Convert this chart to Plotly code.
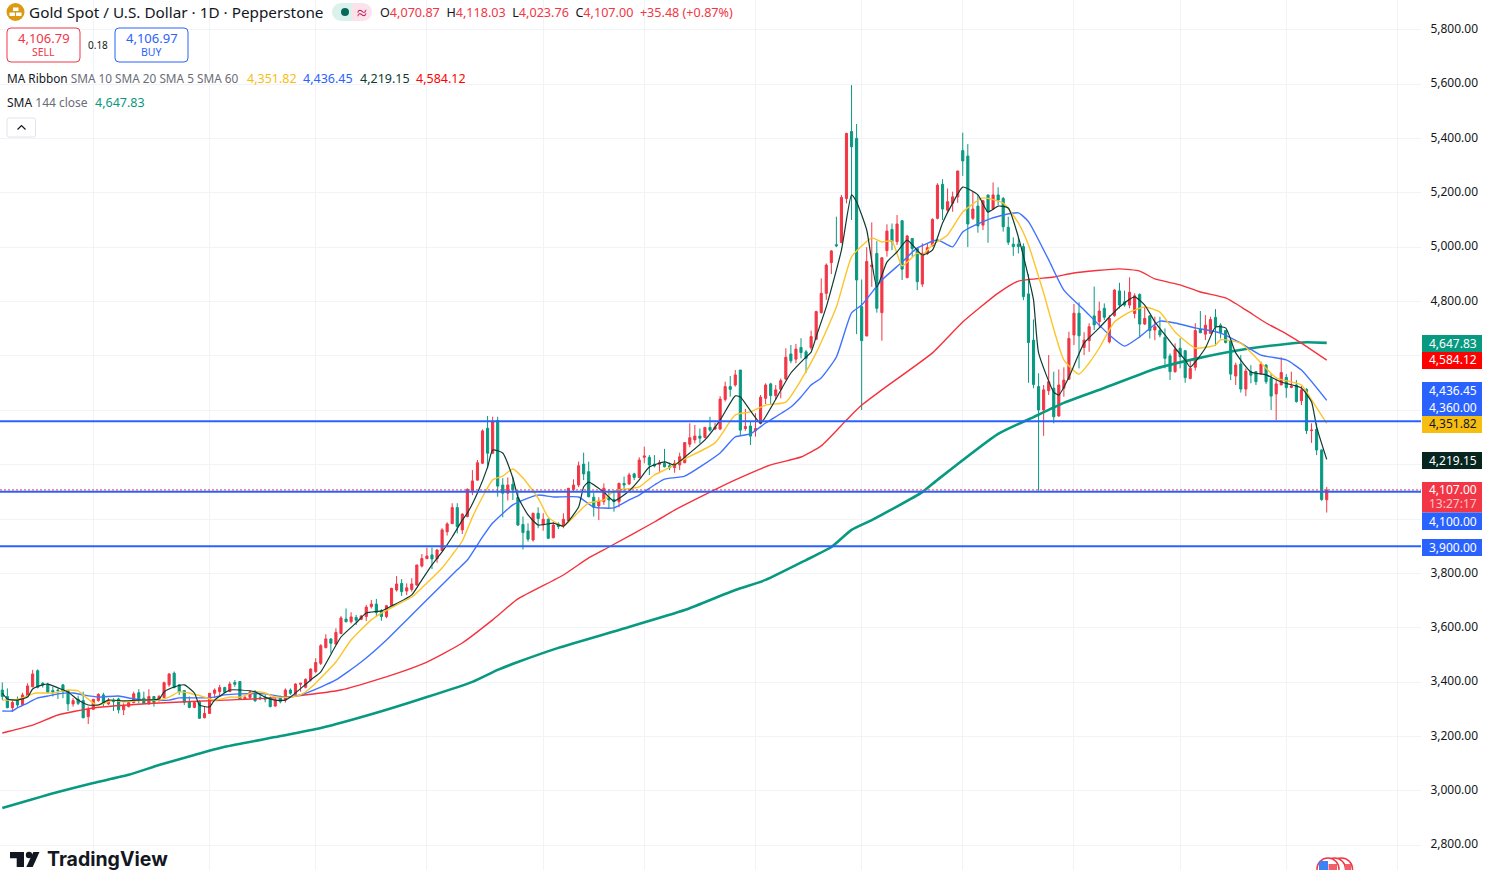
import plotly.graph_objects as go

# Daily gold candles, oldest first
OPEN = [
    3371,3347,3306,3332,3316,3349,3383,3442,3396,3392,
    3369,3371,3390,3369,3320,3337,3332,3273,3300,3332,
    3353,3320,3334,3338,3298,3310,3325,3361,3341,3322,
    3347,3332,3343,3390,3433,3390,3369,3328,3307,3328,
    3269,3285,3359,3365,3380,3365,3399,3402,3339,3344,
    3359,3343,3343,3343,3312,3347,3334,3371,3355,3392,
    3381,3408,3439,3469,3527,3559,3540,3579,3632,3622,
    3638,3631,3641,3678,3687,3663,3641,3682,3739,3763,
    3735,3741,3757,3827,3854,3868,3854,3884,3953,3983,
    4042,3960,4009,4104,4143,4205,4334,4242,4362,4125,
    4095,4128,4079,3980,3956,3923,4021,3978,3999,3931,
    3982,3974,3994,4109,4125,4202,4174,4080,4048,4064,
    4076,4072,4064,4131,4129,4166,4153,4227,4227,4202,
    4201,4205,4196,4189,4199,4207,4275,4291,4305,4300,
    4337,4331,4331,4440,4487,4493,4548,4333,4342,4324,
    4352,4444,4497,4454,4477,4515,4607,4588,4631,4615,
    4630,4661,4759,4830,4943,5009,5017,5179,5425,5400,
    4781,4673,4928,4977,4759,4987,5065,5020,5097,4888,
    5032,4995,4864,4977,5005,5106,5231,5136,5161,5185,
    5355,5335,5106,5151,5081,5192,5140,5192,5179,5073,
    5011,5011,5002,4828,4658,4487,4401,4472,4481,4379,
    4481,4514,4677,4757,4631,4656,4747,4726,4775,4652,
    4748,4839,4799,4787,4756,4826,4717,4747,4695,4693,
    4668,4600,4542,4628,4619,4517,4558,4699,4680,4683,
    4742,4713,4693,4658,4526,4570,4478,4542,4542,4536,
    4566,4517,4460,4493,4521,4484,4493,4435,4477,4325,
    4330,4254,4070.87,
]
HIGH = [
    3399,3377,3334,3347,3361,3396,3445,3447,3400,3398,
    3383,3375,3392,3371,3341,3350,3365,3310,3337,3359,
    3361,3341,3341,3343,3322,3328,3365,3374,3365,3374,
    3349,3353,3402,3433,3439,3392,3371,3347,3328,3334,
    3310,3359,3377,3390,3383,3402,3408,3404,3349,3371,
    3371,3359,3353,3347,3341,3350,3377,3377,3396,3396,
    3414,3451,3488,3540,3576,3561,3598,3643,3671,3657,
    3647,3647,3684,3702,3706,3668,3684,3747,3790,3779,
    3763,3782,3831,3871,3895,3895,3890,3966,3988,4058,
    4058,4021,4113,4180,4217,4330,4379,4376,4376,4150,
    4153,4156,4107,4009,3984,4023,4043,4021,4002,3990,
    3988,4021,4113,4146,4211,4244,4211,4097,4080,4131,
    4109,4104,4134,4156,4170,4170,4227,4266,4235,4235,
    4217,4258,4207,4217,4244,4281,4352,4346,4333,4337,
    4376,4354,4452,4505,4526,4548,4548,4405,4358,4389,
    4456,4499,4501,4493,4517,4628,4640,4644,4665,4622,
    4693,4766,4885,4940,4989,5112,5192,5421,5596,5453,
    4881,5000,5091,5022,4961,5084,5087,5118,5100,5045,
    5032,4995,5014,5014,5106,5235,5250,5216,5204,5281,
    5421,5379,5204,5192,5173,5192,5238,5220,5185,5112,
    5036,5038,5014,4900,4734,4536,4493,4603,4542,4550,
    4558,4689,4791,4797,4687,4720,4855,4799,4793,4750,
    4845,4869,4840,4889,4830,4830,4781,4750,4744,4744,
    4701,4609,4646,4665,4622,4585,4720,4765,4750,4744,
    4772,4720,4695,4658,4575,4603,4554,4566,4542,4579,
    4570,4536,4514,4595,4533,4542,4511,4489,4481,4352,
    4352,4256,4118.03,
]
LOW = [
    3334,3304,3291,3307,3312,3347,3381,3377,3380,3361,
    3347,3338,3341,3294,3310,3316,3267,3246,3298,3328,
    3310,3316,3294,3285,3279,3307,3322,3322,3320,3316,
    3310,3328,3341,3383,3377,3353,3316,3304,3304,3265,
    3267,3283,3341,3347,3359,3365,3383,3338,3334,3338,
    3328,3334,3326,3307,3310,3322,3325,3353,3353,3365,
    3377,3402,3433,3463,3524,3506,3537,3576,3620,3616,
    3610,3628,3625,3671,3643,3626,3635,3680,3733,3717,
    3720,3733,3755,3822,3853,3816,3839,3882,3939,3982,
    3947,3945,4006,4088,4143,4202,4186,4239,4082,4006,
    4068,4070,3974,3888,3917,3917,3966,3957,3926,3929,
    3963,3966,3990,4101,4117,4143,4080,4009,3996,4052,
    4039,4027,4043,4101,4125,4143,4150,4205,4162,4190,
    4174,4190,4180,4170,4180,4205,4264,4278,4278,4297,
    4321,4327,4327,4432,4450,4487,4309,4325,4272,4303,
    4348,4423,4419,4438,4444,4511,4573,4573,4591,4538,
    4622,4658,4756,4806,4901,5000,5014,5161,5100,4680,
    4401,4673,4854,4759,4656,4965,4989,5008,4879,4885,
    4965,4842,4854,4971,5002,5102,5100,5130,5130,5163,
    5262,5000,5100,5053,5063,5016,5136,5155,5057,5008,
    4968,4977,4805,4501,4481,4104,4306,4456,4352,4376,
    4450,4511,4640,4554,4603,4615,4695,4707,4732,4646,
    4744,4775,4781,4775,4738,4671,4714,4664,4658,4668,
    4554,4511,4538,4554,4501,4514,4546,4685,4658,4683,
    4636,4664,4646,4511,4493,4465,4452,4499,4493,4530,
    4497,4401,4364,4493,4446,4481,4428,4419,4313,4280,
    4235,4067,4023.76,
]
CLOSE = [
    3347,3306,3325,3316,3353,3386,3430,3381,3390,3363,
    3363,3369,3365,3320,3332,3322,3269,3300,3337,3355,
    3322,3334,3328,3298,3314,3325,3357,3334,3322,3347,
    3325,3347,3398,3430,3380,3365,3326,3307,3325,3267,
    3285,3359,3371,3380,3363,3393,3392,3338,3344,3363,
    3331,3339,3337,3310,3334,3328,3371,3359,3393,3396,
    3410,3448,3472,3534,3559,3543,3583,3636,3622,3640,
    3628,3643,3676,3687,3656,3641,3681,3745,3761,3733,
    3747,3761,3831,3855,3864,3853,3886,3960,3982,4042,
    3972,4018,4109,4140,4207,4324,4242,4358,4121,4095,
    4125,4107,3978,3950,3926,4021,4002,3999,3929,3978,
    3972,3999,4113,4125,4196,4166,4082,4043,4066,4113,
    4070,4064,4131,4125,4162,4153,4217,4232,4199,4195,
    4207,4192,4189,4205,4229,4281,4299,4305,4297,4337,
    4327,4338,4441,4487,4477,4530,4327,4340,4305,4333,
    4448,4493,4454,4475,4509,4595,4582,4625,4612,4591,
    4671,4763,4830,4934,4986,5005,5183,5418,5369,4879,
    4656,4947,4934,4775,4961,5059,5020,5085,4919,5041,
    4995,4873,4977,4998,5102,5228,5140,5167,5185,5280,
    5317,5085,5140,5078,5171,5130,5192,5173,5075,5018,
    5002,5002,4818,4649,4495,4401,4475,4505,4376,4493,
    4511,4664,4757,4674,4658,4707,4714,4765,4742,4738,
    4842,4787,4787,4834,4821,4717,4738,4693,4707,4677,
    4591,4542,4624,4597,4520,4554,4693,4685,4713,4734,
    4707,4685,4649,4533,4566,4478,4544,4529,4505,4570,
    4505,4452,4497,4539,4483,4489,4432,4475,4325,4327,
    4254,4071.52,4107.00,
]

# Moving averages, sampled by bar number
SMA5_BARS = [0,1,3,5,6,8,9,11,13,15,17,19,21,24,27,31,32,34,36,38,39,41,42,45,47,50,52,54,56,57,61,63,67,70,72,75,77,81,83,85,87,89,91,92,94,96,97,99,101,102,104,106,109,111,114,115,116,119,121,124,126,128,131,133,136,139,142,145,146,150,152,156,159,160,161,163,166,168,169,171,173,175,177,179,182,184,186,188,190,193,195,197,199,201,203,204,205,208,209,211,214,217,219,221,224,226,228,230,232,234,235,238,240,242,244,247,250,253,257,259,260,262]
SMA5_VALUES = [3360,3338,3334,3345,3375,3390,3393,3379,3364,3334,3316,3316,3334,3331,3334,3338,3364,3382,3390,3360,3316,3309,3334,3371,3371,3364,3345,3334,3334,3345,3408,3438,3566,3618,3654,3662,3680,3721,3776,3831,3879,3934,3996,4022,4096,4191,4254,4243,4151,4081,4015,3978,3985,3974,4044,4118,4136,4099,4066,4103,4144,4191,4210,4199,4243,4291,4364,4453,4449,4353,4408,4537,4596,4614,4670,4780,4989,5192,5166,5063,4853,4945,4982,5026,4971,4989,5089,5162,5221,5192,5129,5151,5144,5037,4890,4806,4611,4467,4456,4522,4647,4703,4743,4780,4817,4787,4725,4677,4629,4585,4559,4629,4706,4703,4611,4541,4530,4504,4482,4430,4339,4219.15]

SMA10_BARS = [0,2,4,6,7,10,13,15,16,18,19,22,24,28,31,33,35,37,40,42,45,47,50,52,54,57,59,61,66,69,73,75,78,81,84,87,89,91,93,95,97,99,101,103,106,108,111,114,116,119,121,126,129,131,135,141,145,148,151,155,158,161,165,168,170,172,174,176,178,181,182,184,187,190,194,198,201,203,206,210,213,215,217,220,223,226,229,232,236,240,241,245,249,252,257,259,262]
SMA10_VALUES = [3334,3334,3342,3357,3360,3360,3371,3368,3353,3323,3316,3334,3327,3334,3334,3345,3364,3360,3345,3334,3345,3345,3364,3360,3345,3345,3353,3379,3474,3555,3629,3654,3684,3713,3765,3820,3868,3919,4007,4081,4144,4158,4184,4151,4077,4007,3974,4026,4059,4070,4103,4118,4162,4180,4221,4280,4383,4394,4419,4430,4511,4611,4780,4964,5004,5034,5019,5023,4931,4978,4971,5008,5045,5129,5181,5162,5089,5008,4831,4585,4533,4574,4629,4725,4761,4780,4761,4688,4629,4640,4659,4647,4574,4519,4493,4438,4351.82]

SMA20_BARS = [0,2,3,5,7,9,11,14,16,19,23,26,29,33,35,39,42,44,47,52,56,59,63,66,71,76,80,85,90,92,95,97,101,104,106,109,114,117,121,124,126,129,131,135,142,145,148,151,156,158,160,162,165,168,170,174,178,181,185,188,190,194,198,201,203,207,210,214,219,222,225,229,232,236,241,245,249,254,257,262]
SMA20_VALUES = [3294,3294,3305,3323,3342,3349,3357,3360,3353,3345,3349,3338,3334,3334,3342,3342,3345,3353,3357,3357,3345,3353,3382,3408,3474,3555,3629,3721,3813,3849,3934,3985,4052,4077,4088,4081,4081,4044,4041,4070,4088,4125,4147,4158,4243,4302,4313,4353,4412,4449,4493,4519,4596,4758,4787,4879,4945,4997,5026,5001,5056,5094,5118,5126,5094,4953,4842,4769,4677,4636,4670,4728,4721,4703,4684,4647,4603,4585,4548,4436.45]

SMA60_BARS = [0,6,11,18,31,44,56,67,77,84,91,97,102,111,116,120,129,133,140,145,152,158,162,167,170,174,184,190,197,201,208,212,221,225,228,233,237,242,246,250,254,257,262]
SMA60_VALUES = [3213,3242,3279,3305,3323,3334,3345,3371,3426,3474,3544,3629,3706,3794,3857,3897,3989,4033,4099,4144,4199,4228,4269,4364,4419,4475,4611,4725,4831,4875,4890,4905,4920,4912,4883,4861,4835,4813,4769,4721,4681,4647,4584.12]

SMA144_BARS = [0,11,18,25,31,38,44,54,63,74,84,93,98,102,110,122,135,145,151,159,164,168,172,182,185,197,204,210,218,228,236,246,254,258,262]
SMA144_VALUES = [2937,2996,3029,3059,3095,3132,3162,3198,3231,3287,3345,3401,3445,3474,3526,3592,3665,3739,3776,3849,3897,3960,3996,4099,4144,4313,4375,4427,4482,4552,4589,4625,4644,4650,4647.83]

# Drawn levels, price-axis ticks and month separators
LEVELS = [4360.00, 4100.00, 3900.00]
Y_TICKS = [5800,5600,5400,5200,5000,4800,4600,4400,4200,4000,3800,3600,3400,3200,3000,2800]
HIDDEN_TICKS = [4600,4400,4200,4000]
MONTH_BARS = [18,41,62,84,107,127,149,170,190,212,233,254,276]
BID, ASK, SPREAD = 4106.79, 4106.97, 0.18
COUNTDOWN = "13:27:17"

W, H, RIGHT = 1488, 870, 67
PANE_W = W - RIGHT
UP, DOWN = "#F23645", "#089981"
BLUE, YELLOW, RED, DARK = "#2962FF", "#F7BE12", "#FF0000", "#0E3B31"
FONT = "Noto Sans"
bars = list(range(len(CLOSE)))


def px(x):
    return x / PANE_W


def py(y):
    return 1 - y / H


def money(v):
    return f"{v:,.2f}"


def path(points):
    return "M " + " L ".join(f"{px(x):.5f} {py(y):.5f}" for x, y in points) + " Z"


fig = go.Figure()
fig.add_trace(go.Candlestick(
    x=bars, open=OPEN, high=HIGH, low=LOW, close=CLOSE,
    increasing=dict(line=dict(color=UP, width=1), fillcolor=UP),
    decreasing=dict(line=dict(color=DOWN, width=1), fillcolor=DOWN),
    whiskerwidth=0, hoverinfo="skip", showlegend=False,
))

for xs, ys, color, width in [
    (SMA144_BARS, SMA144_VALUES, DOWN, 2.6),
    (SMA60_BARS, SMA60_VALUES, "#F5323C", 1.4),
    (SMA20_BARS, SMA20_VALUES, "#3F72FF", 1.4),
    (SMA10_BARS, SMA10_VALUES, "#FBC52A", 1.4),
    (SMA5_BARS, SMA5_VALUES, DARK, 1.2),
]:
    fig.add_trace(go.Scatter(
        x=xs, y=ys, mode="lines", hoverinfo="skip", showlegend=False,
        line=dict(color=color, width=width, shape="spline", smoothing=0.5),
    ))

shapes, notes = [], []


def box(x0, y0, x1, y1, fill="rgba(0,0,0,0)", line=None, width=1, kind="rect"):
    shapes.append(dict(type=kind, xref="paper", yref="paper",
                       x0=px(x0), x1=px(x1), y0=py(y0), y1=py(y1),
                       fillcolor=fill, line=dict(color=line or fill, width=width if line else 0)))


def rounded(x0, y0, x1, y1, r, line):
    d = (f"M {px(x0 + r)} {py(y0)} L {px(x1 - r)} {py(y0)} Q {px(x1)} {py(y0)} {px(x1)} {py(y0 + r)} "
         f"L {px(x1)} {py(y1 - r)} Q {px(x1)} {py(y1)} {px(x1 - r)} {py(y1)} "
         f"L {px(x0 + r)} {py(y1)} Q {px(x0)} {py(y1)} {px(x0)} {py(y1 - r)} "
         f"L {px(x0)} {py(y0 + r)} Q {px(x0)} {py(y0)} {px(x0 + r)} {py(y0)} Z")
    shapes.append(dict(type="path", xref="paper", yref="paper", path=d,
                       fillcolor="white", line=dict(color=line, width=1)))


def text(x, y, s, size=12, color="#131722", anchor="left", family=FONT):
    notes.append(dict(xref="paper", yref="paper", x=px(x), y=py(y), text=s,
                      xanchor=anchor, yanchor="middle", showarrow=False,
                      font=dict(family=family, size=size, color=color),
                      borderpad=0, borderwidth=0))


# Horizontal levels and the live-price line
for level in LEVELS:
    shapes.append(dict(type="line", xref="paper", yref="y", x0=0, x1=1, y0=level, y1=level,
                       line=dict(color=BLUE, width=2)))
shapes.append(dict(type="line", xref="paper", yref="y", x0=0, x1=1, y0=CLOSE[-1], y1=CLOSE[-1],
                   line=dict(color=UP, width=1, dash="2px,2px")))

# Price tags on the right-hand scale
TAG_X0, TAG_X1 = 1422, 1482
for y0, y1, fill in [
    (335, 352, DOWN), (352, 369, RED), (382, 416, BLUE), (416, 433, YELLOW),
    (452, 469, "#06261F"), (482, 512.5, UP), (512.5, 530, BLUE), (539, 556, BLUE),
]:
    box(TAG_X0, y0, TAG_X1, y1, fill=fill)
TAG_TEXT = (TAG_X0 + TAG_X1) / 2 + 0.5
for y, value, color in [
    (343, SMA144_VALUES[-1], "white"), (360, SMA60_VALUES[-1], "white"),
    (390, SMA20_VALUES[-1], "white"), (407, LEVELS[0], "white"),
    (424, SMA10_VALUES[-1], "#131722"), (460, SMA5_VALUES[-1], "white"),
    (521, LEVELS[1], "white"), (547, LEVELS[2], "white"),
]:
    text(TAG_TEXT, y, money(value), 12, color, "center")
# Last price and the bar countdown share one tag
text(TAG_TEXT, 497,
     f"<span style='font-size:12px'>{money(CLOSE[-1])}</span><br>"
     f"<span style='font-size:12px;color:rgba(255,255,255,0.72)'>{COUNTDOWN}</span>",
     10.4, "white", "center")

# Symbol header
box(6.5, 3, 24.5, 21, fill="#DB9A12", kind="circle")
box(13, 7.5, 18.5, 11, fill="white")
box(9.5, 12.5, 15, 16, fill="white")
box(16, 12.5, 21.5, 16, fill="white")
text(29, 12, "Gold Spot / U.S. Dollar · 1D · Pepperstone", 15.3)
box(332, 3, 350, 21, fill="#DAF1EC", kind="circle")
box(341, 3, 352, 21, fill="#DAF1EC")
box(354, 3, 372, 21, fill="#FCE3EB", kind="circle")
box(352, 3, 363, 21, fill="#FCE3EB")
box(341, 8, 349, 16, fill="#08695A", kind="circle")
text(361.5, 12, "≈", 18, "#C2185B", "center")


def ohlc_part(tag, value):
    return f"{tag}<span style='color:{UP}'>{value}</span>"


text(380, 12, "  ".join([
    ohlc_part("O", money(OPEN[-1])), ohlc_part("H", money(HIGH[-1])),
    ohlc_part("L", money(LOW[-1])), ohlc_part("C", money(CLOSE[-1])),
    f"<span style='color:{UP}'>+{CLOSE[-1] - CLOSE[-2]:.2f} (+0.87%)</span>",
]), 12.6)

# Sell and buy buttons
rounded(7, 28, 80, 62, 4, UP)
rounded(115, 28, 188, 62, 4, BLUE)
text(43.5, 38, money(BID), 13, UP, "center")
text(43.5, 52, "SELL", 10.5, UP, "center")
text(151.5, 38, money(ASK), 13, BLUE, "center")
text(151.5, 52, "BUY", 10.5, BLUE, "center")
text(97.5, 45, f"{SPREAD:.2f}", 10, "#131722", "center")

# Indicator legend
GRAY = "#6A6D78"
text(7, 78.5, f"MA Ribbon <span style='color:{GRAY}'>SMA 10 SMA 20 SMA 5 SMA 60</span>", 11.8)
for x, value, color in [
    (247, SMA10_VALUES[-1], YELLOW), (303, SMA20_VALUES[-1], BLUE),
    (360, SMA5_VALUES[-1], DARK), (416, SMA60_VALUES[-1], RED),
]:
    text(x, 78.5, money(value), 12.5, color)
text(7, 102.5, f"SMA <span style='color:{GRAY}'>144 close</span>", 12)
text(95, 102.5, money(SMA144_VALUES[-1]), 12.5, DOWN)

rounded(7, 118, 35.5, 137, 2, "#E0E3EB")
shapes.append(dict(type="path", xref="paper", yref="paper",
                   path=f"M {px(17.5)} {py(129.5)} L {px(21.5)} {py(125.5)} L {px(25.5)} {py(129.5)}",
                   line=dict(color="#131722", width=1.2)))

# TradingView wordmark
LOGO = "#131722"
shapes.append(dict(type="path", xref="paper", yref="paper",
                   path=path([(10, 852), (24, 852), (24, 867), (16.7, 867), (16.7, 858.2), (10, 858.2)]),
                   fillcolor=LOGO, line=dict(width=0)))
box(25.8, 851.8, 32.2, 858.2, fill=LOGO, kind="circle")
shapes.append(dict(type="path", xref="paper", yref="paper",
                   path=path([(33.3, 852), (39.5, 852), (32.7, 867), (26.3, 867)]),
                   fillcolor=LOGO, line=dict(width=0)))
text(47, 858.5, "<b>TradingView</b>", 19.5, LOGO, family="Inter")

# Market-holiday flag badges, cut off by the window edge
for cx in (1341.5, 1334.5):
    box(cx - 11, 858, cx + 11, 880, fill="white", line=UP, width=1.5, kind="circle")
box(1317, 858, 1339, 880, fill="white", line=UP, width=1.5, kind="circle")
box(1319, 861, 1328, 870, fill="#3B82F6")
box(1328.5, 864, 1337, 870, fill="#F0606A")
box(1345, 864, 1351, 870, fill="#F0606A")

fig.update_layout(
    width=W, height=H, autosize=False,
    margin=dict(l=0, r=RIGHT, t=0, b=0),
    paper_bgcolor="white", plot_bgcolor="white",
    showlegend=False, boxgap=0.4,
    font=dict(family=FONT, size=12, color="#131722"),
    shapes=shapes, annotations=notes,
    xaxis=dict(
        range=[-0.455, 280.65], rangeslider=dict(visible=False),
        tickmode="array", tickvals=MONTH_BARS, showticklabels=False, ticks="",
        showgrid=True, gridcolor="#F2F3F6", gridwidth=1, zeroline=False, showline=False,
    ),
    yaxis=dict(
        range=[2709, 5909], side="right",
        tickmode="array", tickvals=Y_TICKS,
        ticktext=["" if v in HIDDEN_TICKS else money(v) for v in Y_TICKS],
        tickfont=dict(family=FONT, size=12, color="#131722"),
        ticks="outside", ticklen=6, tickcolor="rgba(0,0,0,0)", ticklabelshift=-1,
        showgrid=True, gridcolor="#F2F3F6", gridwidth=1, zeroline=False, showline=False,
    ),
)

fig.write_html("out.html", config=dict(displayModeBar=False))
